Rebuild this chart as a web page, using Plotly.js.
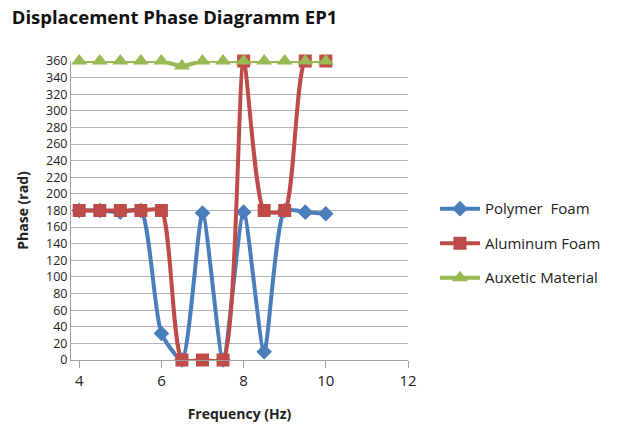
<!DOCTYPE html>
<html><head><meta charset="utf-8">
<script src="https://cdn.plot.ly/plotly-3.0.1.min.js"></script>
<style>body{margin:0;padding:0;background:#fff}#chart{width:619px;height:431px}</style>
</head><body><div id="chart"></div>
<script>
const freq = [4, 4.5, 5, 5.5, 6, 6.5, 7, 7.5, 8, 8.5, 9, 9.5, 10];
const polymerFoam = [180, 180, 178, 180, 32, 0, 177, 0, 178, 10, 180, 178, 176];
const aluminumFoam = [180, 180, 180, 180, 180, 0, 0, 0, 360, 180, 180, 360, 360];
const auxeticMaterial = [360, 360, 360, 360, 360, 354, 360, 360, 360, 360, 360, 360, 360];
const seriesNames = ["Polymer  Foam", "Aluminum Foam", "Auxetic Material"];
const yTicks = [0,20,40,60,80,100,120,140,160,180,200,220,240,260,280,300,320,340,360];
const xTicks = [4, 6, 8, 10, 12];

const font = "Open Sans, Liberation Sans, sans-serif";
const traces = [
  {x: freq, y: polymerFoam, name: seriesNames[0], legendgroup: "a", mode: "lines+markers", cliponaxis: false,
   line: {color: "#4a7ebb", width: 4, shape: "spline", smoothing: 0.6},
   marker: {symbol: "diamond", size: 12, color: "#4a7ebb"}},
  {x: freq, y: aluminumFoam, name: seriesNames[1], legendgroup: "b", mode: "lines+markers", cliponaxis: false,
   line: {color: "#be4b48", width: 4, shape: "spline", smoothing: 0.6},
   marker: {symbol: "square", size: 13, color: "#be4b48"}},
  {x: freq, y: auxeticMaterial, name: seriesNames[2], legendgroup: "c", mode: "lines+markers", cliponaxis: false,
   line: {color: "#98b954", width: 4, shape: "spline", smoothing: 0.6},
   marker: {symbol: "triangle-up", size: 14, color: "#98b954"}}
];
const layout = {
  width: 619, height: 431,
  margin: {l: 71, r: 211, t: 61, b: 71},
  paper_bgcolor: "#fff", plot_bgcolor: "#fff",
  font: {family: font, size: 13, color: "#222"},
  title: {text: "<b>Displacement Phase Diagramm EP1</b>", x: 0.282, xanchor: "center", y: 0.96, yanchor: "middle",
          font: {family: font, size: 18.5, color: "#111"}},
  xaxis: {range: [3.8, 12], tickvals: xTicks, ticks: "outside", ticklen: 7, tickcolor: "#a0a0a0",
          showgrid: false, zeroline: false, showline: true, linecolor: "#a0a0a0", linewidth: 1,
          tickfont: {size: 15, color: "#222"},
          title: {text: "<b>Frequency (Hz)</b>", font: {size: 14, color: "#222"}, standoff: 20}},
  yaxis: {range: [0, 360], tickvals: yTicks, ticks: "", showgrid: true, gridcolor: "#b4b4b4", gridwidth: 1,
          zeroline: false, showline: true, linecolor: "#a0a0a0", linewidth: 1,
          tickfont: {size: 12.5, color: "#222"},
          title: {text: "<b>Phase (rad)</b>", font: {size: 14, color: "#222"}, standoff: 14}},
  showlegend: true,
  legend: {x: 1.08, y: 0.39, xanchor: "left", yanchor: "middle", font: {size: 15, color: "#222"},
           traceorder: "grouped", tracegroupgap: 12, itemwidth: 40, bgcolor: "rgba(0,0,0,0)"}
};
Plotly.newPlot("chart", traces, layout, {displayModeBar: false, staticPlot: true});
</script></body></html>
